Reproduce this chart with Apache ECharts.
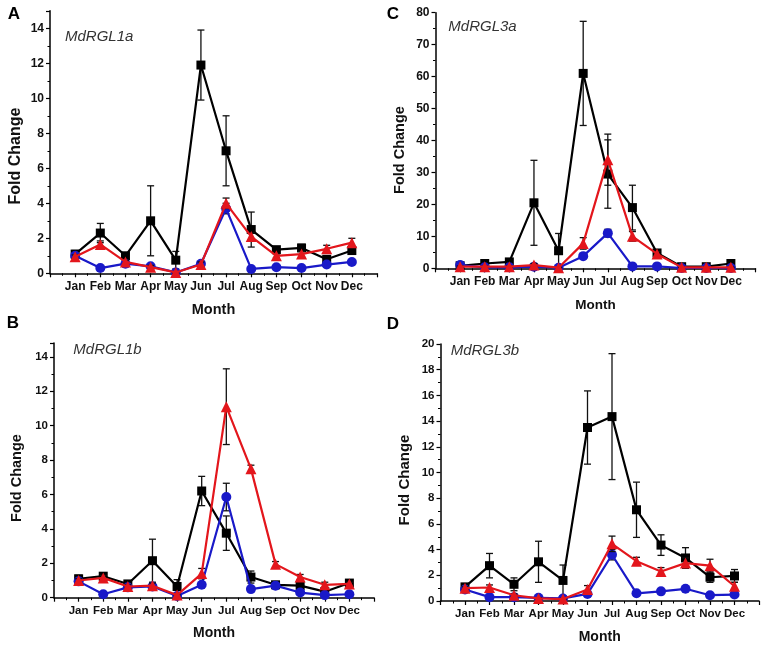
<!DOCTYPE html>
<html>
<head>
<meta charset="utf-8">
<script src="https://cdn.jsdelivr.net/npm/echarts@6/dist/echarts.min.js"></script>
<style>html,body{margin:0;padding:0;background:#fff}#c{width:769px;height:652px}</style>
</head>
<body>
<div id="c"></div>
<script>
// ---- data ----
const months = ['Jan','Feb','Mar','Apr','May','Jun','Jul','Aug','Sep','Oct','Nov','Dec'];
const panelLetters = ['A','B','C','D'];
const geneNames = ['MdRGL1a','MdRGL1b','MdRGL3a','MdRGL3b'];
const yMaxes = [15, 14.8, 80, 20];
const yIntervals = [2, 2, 10, 2];

const aBlack    = [1.1, 2.3, 1.0, 3.0, 0.75, 11.9, 7.0, 2.5, 1.35, 1.45, 0.8, 1.3];
const aBlackErr = [0.2, 0.55, 0.15, 2.0, 0.5, 2.0, 2.0, 1.0, 0.1, 0.2, 0.1, 0.15];
const aRed      = [0.95, 1.65, 0.65, 0.35, 0.05, 0.5, 4.0, 2.1, 1.0, 1.1, 1.4, 1.75];
const aRedErr   = [0.1, 0.2, 0.1, 0.1, 0.05, 0.15, 0.3, 0.2, 0.1, 0.15, 0.2, 0.25];
const aBlue     = [1.0, 0.3, 0.55, 0.4, 0.05, 0.55, 3.7, 0.25, 0.35, 0.3, 0.5, 0.65];
const aBlueErr  = [0.1, 0.05, 0.05, 0.1, 0.02, 0.1, 0.3, 0.05, 0.05, 0.05, 0.05, 0.05];

const bBlack    = [1.1, 1.25, 0.8, 2.15, 0.65, 6.2, 3.75, 1.2, 0.75, 0.7, 0.35, 0.85];
const bBlackErr = [0.2, 0.1, 0.1, 1.25, 0.4, 0.85, 1.0, 0.35, 0.1, 0.15, 0.1, 0.15];
const bRed      = [1.0, 1.15, 0.65, 0.7, 0.15, 1.4, 11.1, 7.5, 1.95, 1.2, 0.75, 0.8];
const bRedErr   = [0.1, 0.15, 0.1, 0.15, 0.05, 0.3, 2.2, 0.2, 0.15, 0.15, 0.15, 0.1];
const bBlue     = [0.95, 0.2, 0.6, 0.65, 0.1, 0.75, 5.85, 0.5, 0.7, 0.3, 0.15, 0.2];
const bBlueErr  = [0.15, 0.05, 0.05, 0.1, 0.03, 0.1, 0.8, 0.05, 0.05, 0.05, 0.05, 0.05];

const cBlack    = [0.8, 1.5, 2.0, 20.5, 5.5, 61, 29.5, 19, 4.8, 0.5, 0.5, 1.5];
const cBlackErr = [0.3, 0.3, 0.4, 13.3, 5.4, 16.3, 10.7, 7, 1.0, 0.3, 0.2, 0.3];
const cRed      = [0.5, 0.5, 0.5, 1.0, 0.2, 7.8, 34, 10, 4.5, 0.3, 0.3, 0.3];
const cRedErr   = [0.2, 0.2, 0.2, 0.5, 0.1, 1.8, 8, 1.5, 0.8, 0.1, 0.1, 0.1];
const cBlue     = [1.0, 0.3, 0.3, 0.5, 0.2, 3.8, 11, 0.6, 0.6, 0.1, 0.1, 0.1];
const cBlueErr  = [0.3, 0.1, 0.1, 0.1, 0.05, 0.5, 1.2, 0.1, 0.1, 0.05, 0.05, 0.05];

const dBlack    = [1.1, 2.75, 1.3, 3.05, 1.6, 13.5, 14.35, 7.1, 4.35, 3.35, 1.85, 1.95];
const dBlackErr = [0.2, 0.95, 0.5, 1.6, 1.2, 2.85, 4.9, 2.15, 0.8, 0.8, 0.4, 0.5];
const dRed      = [1.0, 1.05, 0.45, 0.2, 0.15, 0.9, 4.45, 3.1, 2.3, 2.95, 2.75, 1.15];
const dRedErr   = [0.1, 0.2, 0.1, 0.05, 0.05, 0.3, 0.6, 0.3, 0.3, 0.4, 0.5, 0.3];
const dBlue     = [0.9, 0.3, 0.3, 0.25, 0.2, 0.55, 3.6, 0.6, 0.75, 0.95, 0.45, 0.5];
const dBlueErr  = [0.1, 0.05, 0.05, 0.05, 0.05, 0.1, 0.4, 0.05, 0.05, 0.1, 0.05, 0.05];

const panelData = [
  {black: aBlack, blackErr: aBlackErr, red: aRed, redErr: aRedErr, blue: aBlue, blueErr: aBlueErr},
  {black: bBlack, blackErr: bBlackErr, red: bRed, redErr: bRedErr, blue: bBlue, blueErr: bBlueErr},
  {black: cBlack, blackErr: cBlackErr, red: cRed, redErr: cRedErr, blue: cBlue, blueErr: cBlueErr},
  {black: dBlack, blackErr: dBlackErr, red: dRed, redErr: dRedErr, blue: dBlue, blueErr: dBlueErr}
];

// ---- layout ----
const grids = [
  {left: 50,    top: 10.8, width: 327,   height: 262.5},
  {left: 54,    top: 343,  width: 320,   height: 254.7},
  {left: 435.5, top: 12.7, width: 320,   height: 255.6},
  {left: 440.5, top: 344,  width: 318.5, height: 257}
];
const labelSize = [12, 11.5, 12, 11.5];
const yTitlePos = [[15.7, 156, 16], [17.3, 478, 14.5], [400, 150, 14.5], [405, 480, 15]];
const monthPos = [[213.5, 310, 14.5], [214, 633.3, 14], [595.5, 305, 13.5], [599.7, 636.7, 14]];
const genePos = [[65, 36.7], [73.3, 350], [448.3, 26.7], [450.7, 350.7]];
const letterPos = [[14, 14], [13, 323], [393, 14], [393, 324]];

const FONT = "'Liberation Sans', Arial, sans-serif";
const COLORS = {black: '#000000', red: '#e3161c', blue: '#1919c8'};
const SYMBOLS = {black: ['rect', 9], red: ['triangle', 11], blue: ['circle', 10]};
const ZS = {black: 2, blue: 3, red: 4};
const ERR_COLOR = '#111111';

function errSeries(idx, vals, errs, color, z) {
  return {
    type: 'custom', xAxisIndex: idx, yAxisIndex: idx, z: z, silent: true,
    data: vals.map((v, i) => [i + 1, v, errs[i]]),
    encode: {x: 0, y: 1},
    renderItem: function (params, api) {
      const x = api.value(0), y = api.value(1), e = api.value(2);
      const top = api.coord([x, y + e]);
      const bot = api.coord([x, Math.max(y - e, 0)]);
      const hw = 3.5;
      const st = {stroke: color, lineWidth: 1.3};
      return {type: 'group', children: [
        {type: 'line', shape: {x1: top[0], y1: top[1], x2: bot[0], y2: bot[1]}, style: st},
        {type: 'line', shape: {x1: top[0] - hw, y1: top[1], x2: top[0] + hw, y2: top[1]}, style: st},
        {type: 'line', shape: {x1: bot[0] - hw, y1: bot[1], x2: bot[0] + hw, y2: bot[1]}, style: st}
      ]};
    }
  };
}

const option = {animation: false, backgroundColor: '#fff', grid: [], xAxis: [], yAxis: [], series: [], graphic: []};

grids.forEach((g, idx) => {
  option.grid.push(Object.assign({containLabel: false}, g));
  const axisLine = {show: true, onZero: false, lineStyle: {color: '#000', width: 1.5}};
  const lblStyle = {color: '#111', fontFamily: FONT, fontWeight: 'bold', fontSize: labelSize[idx]};
  option.xAxis.push({
    type: 'value', gridIndex: idx, min: 0, max: 13, interval: 1,
    axisLine: axisLine,
    axisTick: {show: true, inside: false, length: 4, lineStyle: {color: '#000', width: 1.2}},
    minorTick: {show: true, splitNumber: 2, length: 2.5, lineStyle: {color: '#000', width: 1}},
    splitLine: {show: false},
    axisLabel: Object.assign({margin: 7, formatter: v => (v >= 1 && v <= 12 && Number.isInteger(v)) ? months[v - 1] : ''}, lblStyle)
  });
  const iv = yIntervals[idx];
  option.yAxis.push({
    type: 'value', gridIndex: idx, min: 0, max: yMaxes[idx], interval: iv,
    axisLine: axisLine,
    axisTick: {show: true, inside: false, length: 4, lineStyle: {color: '#000', width: 1.2}},
    minorTick: {show: true, splitNumber: 2, length: 2.5, lineStyle: {color: '#000', width: 1}},
    splitLine: {show: false},
    axisLabel: Object.assign({margin: 6, formatter: v => (Math.abs(v / iv - Math.round(v / iv)) < 1e-6) ? String(v) : ''}, lblStyle)
  });
  const pd = panelData[idx];
  ['black', 'blue', 'red'].forEach(k => {
    option.series.push(errSeries(idx, pd[k], pd[k + 'Err'], ERR_COLOR, ZS[k]));
    option.series.push({
      type: 'line', xAxisIndex: idx, yAxisIndex: idx, z: ZS[k],
      data: pd[k].map((v, i) => [i + 1, v]),
      symbol: SYMBOLS[k][0], symbolSize: SYMBOLS[k][1],
      itemStyle: {color: COLORS[k]},
      lineStyle: {color: COLORS[k], width: 2.2},
      showSymbol: true
    });
  });
  // texts
  option.graphic.push({
    type: 'text', x: yTitlePos[idx][0], y: yTitlePos[idx][1], rotation: Math.PI / 2,
    style: {text: 'Fold Change', x: 0, y: 0, textAlign: 'center', textVerticalAlign: 'middle',
      font: 'bold ' + yTitlePos[idx][2] + 'px ' + FONT, fill: '#111'}
  });
  option.graphic.push({
    type: 'text', x: monthPos[idx][0], y: monthPos[idx][1],
    style: {text: 'Month', x: 0, y: 0, textAlign: 'center', textVerticalAlign: 'middle',
      font: 'bold ' + monthPos[idx][2] + 'px ' + FONT, fill: '#111'}
  });
  option.graphic.push({
    type: 'text', x: genePos[idx][0], y: genePos[idx][1],
    style: {text: geneNames[idx], x: 0, y: 0, textAlign: 'left', textVerticalAlign: 'middle',
      font: 'italic 15px ' + FONT, fill: '#333'}
  });
  option.graphic.push({
    type: 'text', x: letterPos[idx][0], y: letterPos[idx][1],
    style: {text: panelLetters[idx], x: 0, y: 0, textAlign: 'center', textVerticalAlign: 'middle',
      font: 'bold 17px ' + FONT, fill: '#000'}
  });
});

const chart = echarts.init(document.getElementById('c'), null, {renderer: 'canvas'});
chart.setOption(option);
</script>
</body>
</html>
